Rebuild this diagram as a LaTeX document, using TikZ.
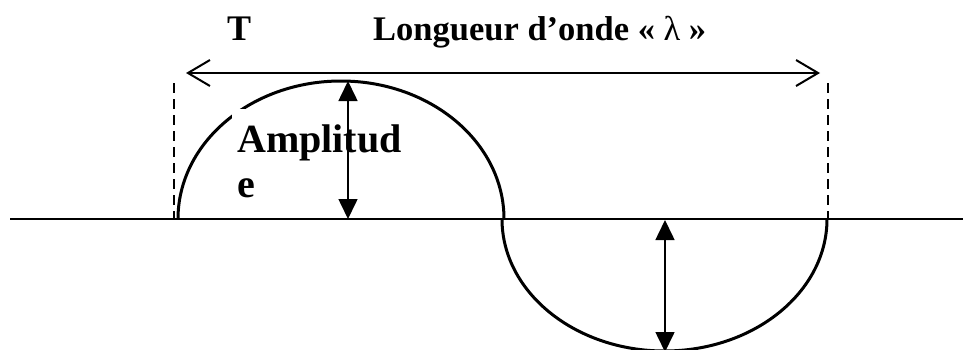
\documentclass[tikz,border=0pt]{standalone}
\usepackage{fontspec}
\setmainfont{Liberation Serif}
\usetikzlibrary{arrows.meta}
\begin{document}
\begin{tikzpicture}[x=1pt,y=-1pt,
  axisline/.style={line width=2pt},
  wave/.style={line width=3pt},
  guide/.style={line width=2.4pt, dash pattern=on 10pt off 6pt},
  spanarrow/.style={line width=2pt, {Straight Barb[length=22pt,width=26pt,line width=2pt]}-{Straight Barb[length=22pt,width=26pt,line width=2pt]}},
  amparrow/.style={line width=1.6pt, {Triangle[length=20pt,width=19pt]}-{Triangle[length=20pt,width=19pt]}},
  lbl/.style={inner sep=0pt, anchor=base west}]
\useasboundingbox (0,0) rectangle (963,349);
% coordinates
\coordinate (axL) at (10,219);
\coordinate (axR) at (963,219);
\coordinate (w0) at (178,219);
\coordinate (w1) at (502,219);
\coordinate (crest) at (348,81);
\coordinate (crestB) at (348,219);
\coordinate (trough) at (665,352);
\coordinate (troughT) at (665,220);
\coordinate (spL) at (186,73);
\coordinate (spR) at (820,73);
\coordinate (dLt) at (174,83);
\coordinate (dLb) at (174,219);
\coordinate (dRt) at (828,83);
\coordinate (dRb) at (828,219);
% axis
\draw[axisline] (axL) -- (axR);
% wave
\draw[wave] (w0) arc[start angle=180, end angle=360, x radius=163, y radius=138];
\draw[wave] (w1) arc[start angle=180, end angle=0, x radius=162.5, y radius=132];
% dashed guides
\draw[guide] (dLt) -- (dLb);
\draw[guide] (dRt) -- (dRb);
% wavelength arrow
\draw[spanarrow] (spL) -- (spR);
% labels
\node[lbl, font=\bfseries\fontsize{36}{40}\selectfont] (T) at (227,40) {T};
\node[lbl, font=\bfseries\fontsize{34.5}{40}\selectfont] (lam) at (373,40) {Longueur d’onde « {\mdseries λ} »};
\fill[white] (232,109) rectangle (412,205);
\node[lbl, font=\bfseries\fontsize{40}{45}\selectfont] (amp) at (237,152) {Amplitud};
\node[lbl, font=\bfseries\fontsize{40}{45}\selectfont] (ampe) at (237,197) {e};
% amplitude arrows
\draw[amparrow] (crest) -- (crestB);
\draw[amparrow] (troughT) -- (trough);
\end{tikzpicture}
\end{document}
